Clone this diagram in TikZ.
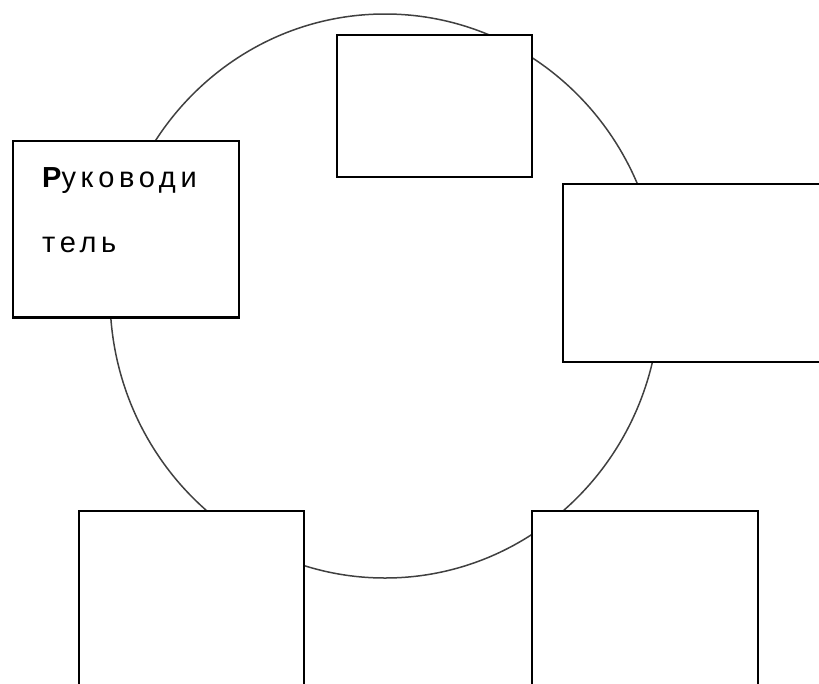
\documentclass[tikz,border=0pt]{standalone}
\usepackage{fontspec}
\setmainfont{Liberation Sans}
\begin{document}
\begin{tikzpicture}[x=1pt,y=-1pt,
  unit/.style={draw,fill=white,line width=1.6pt,inner sep=0pt,anchor=north west}]
  \useasboundingbox (0,0) rectangle (819,683);
  \clip (0,0) rectangle (819,683);
  % ring behind the boxes
  \draw[line width=1.5pt,black!75] (385,296) ellipse [x radius=275pt,y radius=282pt];
  \node[unit,minimum width=195pt,minimum height=142pt] (top) at (336,34) {};
  \node[unit,minimum width=226pt,minimum height=176pt] (lead) at (12,140) {};
  \draw[line width=3.5pt] (lead.south west) -- (lead.south east);
  \node[unit,minimum width=280pt,minimum height=178pt] (right) at (562,183) {};
  \node[unit,minimum width=225pt,minimum height=200pt] (botleft) at (78,510) {};
  \node[unit,minimum width=226pt,minimum height=200pt] (botright) at (531,510) {};
  \node[anchor=north west,align=left,inner sep=0pt,
    font=\fontsize{29}{65}\selectfont\addfontfeature{LetterSpace=16}] (name) at (42,167)
    {{\bfseries Р}уководи\\тель};
\end{tikzpicture}
\end{document}
